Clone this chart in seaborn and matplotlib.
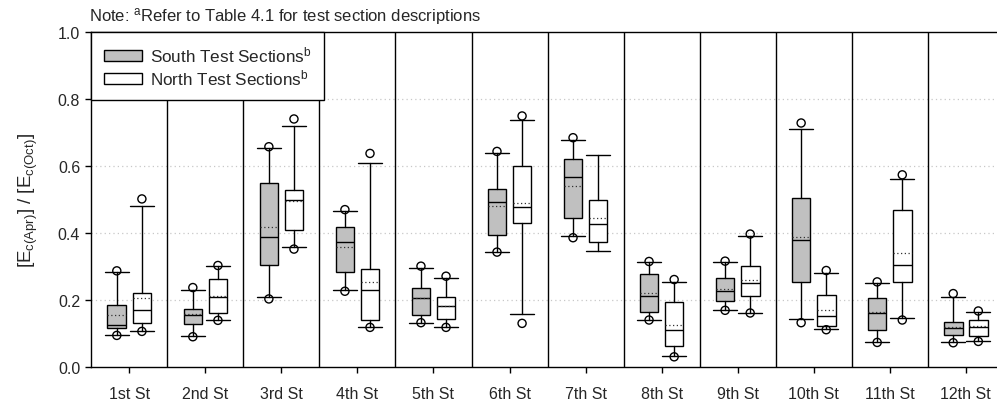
import numpy as np
import pandas as pd
import matplotlib
matplotlib.use("Agg")
import matplotlib.pyplot as plt
from matplotlib.patches import Patch
import seaborn as sns

# Modulus ratio E_c(Apr) / E_c(Oct) per street, South vs North test sections
streets = ["1st St", "2nd St", "3rd St", "4th St", "5th St", "6th St",
           "7th St", "8th St", "9th St", "10th St", "11th St", "12th St"]

# South test sections: percentile summary
south_p95 = [0.286, 0.236, 0.657, 0.469, 0.300, 0.643, 0.684, 0.314, 0.315, 0.728, 0.253, 0.218]
south_p90 = [0.282, 0.229, 0.652, 0.466, 0.295, 0.639, 0.678, 0.311, 0.313, 0.711, 0.251, 0.209]
south_q3 = [0.183, 0.171, 0.548, 0.416, 0.236, 0.531, 0.621, 0.278, 0.266, 0.504, 0.206, 0.132]
south_mean = [0.153, 0.156, 0.416, 0.358, 0.205, 0.479, 0.539, 0.219, 0.231, 0.387, 0.162, 0.119]
south_median = [0.125, 0.155, 0.387, 0.371, 0.205, 0.491, 0.567, 0.212, 0.226, 0.377, 0.160, 0.116]
south_q1 = [0.115, 0.126, 0.303, 0.284, 0.153, 0.393, 0.445, 0.162, 0.195, 0.252, 0.108, 0.094]
south_p10 = [0.094, 0.091, 0.208, 0.229, 0.131, 0.343, 0.390, 0.139, 0.169, 0.141, 0.074, 0.072]
south_p5 = [0.093, 0.089, 0.202, 0.225, 0.131, 0.342, 0.385, 0.139, 0.168, 0.131, 0.072, 0.071]

# North test sections: percentile summary
north_p95 = [0.501, 0.302, 0.740, 0.637, 0.270, 0.749, np.nan, 0.260, 0.396, 0.287, 0.573, 0.166]
north_p90 = [0.480, 0.300, 0.720, 0.608, 0.264, 0.737, 0.631, 0.252, 0.390, 0.281, 0.562, 0.164]
north_q3 = [0.219, 0.261, 0.528, 0.291, 0.209, 0.599, 0.498, 0.192, 0.299, 0.215, 0.469, 0.139]
north_mean = [0.204, 0.210, 0.495, 0.253, 0.182, 0.488, 0.444, 0.125, 0.258, 0.170, 0.339, 0.121]
north_median = [0.170, 0.208, 0.498, 0.228, 0.182, 0.477, 0.425, 0.108, 0.250, 0.152, 0.303, 0.119]
north_q1 = [0.130, 0.159, 0.407, 0.140, 0.141, 0.428, 0.373, 0.061, 0.211, 0.121, 0.252, 0.091]
north_p10 = [0.106, 0.139, 0.356, 0.118, 0.118, 0.157, 0.346, 0.032, 0.161, 0.111, 0.146, 0.076]
north_p5 = [0.105, 0.138, 0.351, 0.117, 0.117, 0.129, np.nan, 0.029, 0.160, 0.110, 0.139, 0.075]

sns.set_theme(style="white")
plt.rcParams["font.family"] = ["Liberation Sans", "DejaVu Sans"]
plt.rcParams["mathtext.default"] = "regular"

fig = plt.figure(figsize=(9.97, 4.02), dpi=100)
ax = fig.add_axes([0.0916, 0.0858, 0.9152, 0.8321])

offset = 0.165
box_w = 0.245
cap_w = 0.315
groups = np.arange(len(streets))


def stats_for(p90, q3, mean, med, q1, p10):
    return [dict(whislo=a, q1=b, med=c, mean=d, q3=e, whishi=f, fliers=[])
            for a, b, c, d, e, f in zip(p10, q1, med, mean, q3, p90)]


series = [
    ("South", -offset, "#c0c0c0",
     stats_for(south_p90, south_q3, south_mean, south_median, south_q1, south_p10),
     south_p5, south_p95),
    ("North", offset, "white",
     stats_for(north_p90, north_q3, north_mean, north_median, north_q1, north_p10),
     north_p5, north_p95),
]

# light dotted reference lines
for yv in [0.2, 0.4, 0.6, 0.8]:
    ax.axhline(yv, color="#c8c8c8", lw=0.9, ls=(0, (1, 2.5)), zorder=0)

# separators between streets
for xv in groups[:-1] + 0.5:
    ax.axvline(xv, color="black", lw=1.0, zorder=1)

rows = []
for name, dx, fc, st, p5, p95 in series:
    ax.bxp(st, positions=groups + dx, widths=box_w, capwidths=cap_w,
           showmeans=True, meanline=True, showfliers=False, patch_artist=True,
           manage_ticks=False,
           boxprops=dict(facecolor=fc, edgecolor="black", linewidth=1.0),
           medianprops=dict(color="black", linewidth=1.0),
           meanprops=dict(color="#333333", linewidth=0.9, linestyle=(0, (1, 2))),
           whiskerprops=dict(color="black", linewidth=1.0),
           capprops=dict(color="black", linewidth=1.0))
    for g, lo, hi in zip(groups, p5, p95):
        rows.append(dict(section=name, pos=g + dx, value=lo))
        rows.append(dict(section=name, pos=g + dx, value=hi))

pts = pd.DataFrame(rows).dropna()
sns.scatterplot(data=pts, x="pos", y="value", marker="o", s=34,
                facecolor="none", edgecolor="black", linewidth=1.0,
                legend=False, ax=ax, zorder=5)

ax.set_xlim(-0.5, len(streets) - 0.5)
ax.set_ylim(0.0, 1.0)
ax.set_xticks(groups)
ax.set_xticklabels(streets, fontsize=11.5)
ax.set_yticks([0.0, 0.2, 0.4, 0.6, 0.8, 1.0])
ax.set_yticklabels(["0.0", "0.2", "0.4", "0.6", "0.8", "1.0"], fontsize=11.5)
ax.tick_params(axis="both", which="major", direction="out", length=4,
               width=1.0, color="black", bottom=True, left=True)
ax.tick_params(axis="x", pad=10)
ax.tick_params(axis="y", pad=4)
ax.set_xlabel("")
ax.set_ylabel(r"[E$_{c(Apr)}$] / [E$_{c(Oct)}$]", fontsize=13.5, labelpad=13)
for side in ["left", "bottom", "top", "right"]:
    ax.spines[side].set_color("black")
    ax.spines[side].set_linewidth(1.0)

handles = [Patch(facecolor="#c0c0c0", edgecolor="black", linewidth=1.0),
           Patch(facecolor="white", edgecolor="black", linewidth=1.0)]
labels = [r"South Test Sections$^{b}$", r"North Test Sections$^{b}$"]
leg = ax.legend(handles, labels, loc="upper left", bbox_to_anchor=(0, 1),
                borderaxespad=0, fontsize=12.3, frameon=True, fancybox=False,
                framealpha=1, edgecolor="black", handlelength=2.25,
                handleheight=0.6, handletextpad=0.45, labelspacing=0.22,
                borderpad=0.72)
leg.get_frame().set_linewidth(1.0)
leg.set_zorder(10)

fig.text(0.0893, 0.948, r"Note: $^{a}$Refer to Table 4.1 for test section descriptions",
         fontsize=12, ha="left", va="baseline")

fig.savefig("out.png", dpi=100)
